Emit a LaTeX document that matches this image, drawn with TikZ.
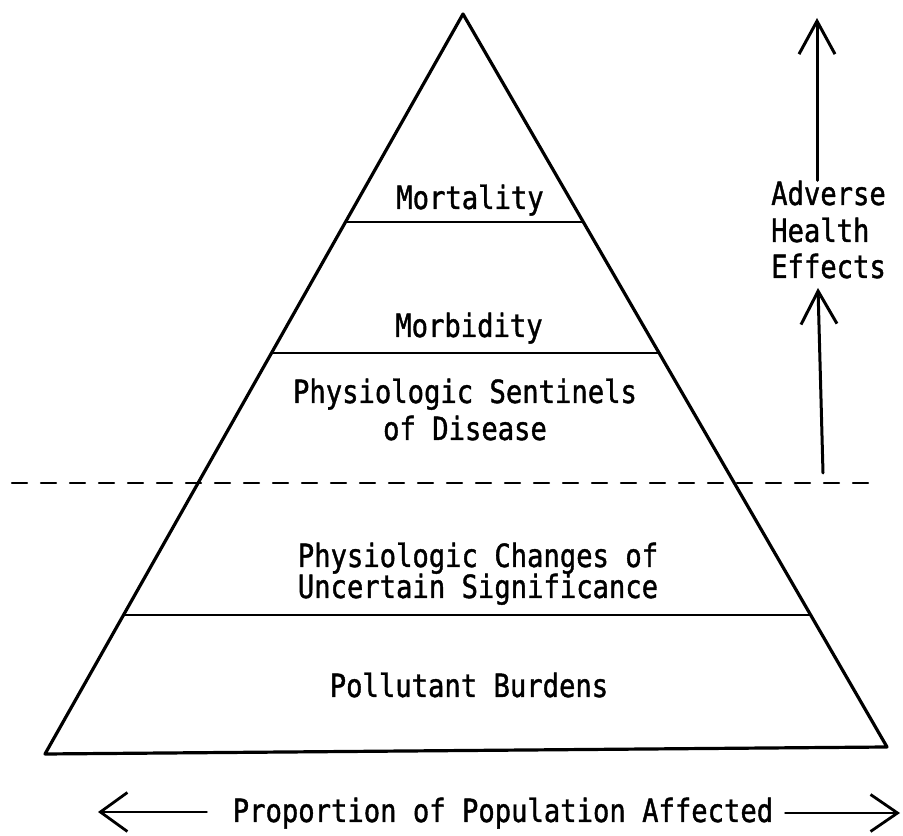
\documentclass[tikz,border=0pt]{standalone}
\usepackage{fontspec}
\newfontfamily\typefont{DejaVu Sans Mono}[FakeStretch=0.85,FakeBold=1.2]
\usetikzlibrary{arrows.meta}

\begin{document}
\begin{tikzpicture}[line cap=round,line join=round,>={Straight Barb[length=33pt,width=36pt]},x=1pt,y=1pt,
		lbl/.style={font=\typefont\fontsize{32}{37}\selectfont,anchor=base,inner sep=0pt},
		side/.style={line width=3.2pt},
		level/.style={line width=2.8pt}]
			\useasboundingbox (0,0) rectangle (903,836);
			% pyramid
			\coordinate (A) at (463,822);
			\coordinate (B) at (45,82);
			\coordinate (C) at (887,89);
			\draw [side] (A)-- (B)-- (C)-- cycle;
			\coordinate (L1) at (345.5,614);
			\coordinate (R1) at (583.3,614);
			\coordinate (L2) at (271.5,483);
			\coordinate (R2) at (659.1,483);
			\coordinate (L3) at (123.5,221);
			\coordinate (R3) at (810.6,221);
			\draw [level] (L1)-- (R1);
			\draw [level] (L2)-- (R2);
			\draw [level] (L3)-- (R3);
			\coordinate (D1) at (12,353);
			\coordinate (D2) at (878,353);
			\draw [line width=2.4pt,dash pattern=on 15pt off 14pt] (D1)-- (D2);
			% labels
			\node [lbl] (mort) at (470,627) {Mortality};
			\node [lbl] (morb) at (469,499) {Morbidity};
			\node [lbl] (sent1) at (465,433) {Physiologic Sentinels};
			\node [lbl] (sent2) at (465,396) {of Disease};
			\node [lbl] (chg1) at (478,269) {Physiologic Changes of};
			\node [lbl] (chg2) at (478,238) {Uncertain Significance};
			\node [lbl] (poll) at (469,139) {Pollutant Burdens};
			\node [lbl,anchor=base west] (adv1) at (771,631) {Adverse};
			\node [lbl,anchor=base west] (adv2) at (771,594) {Health};
			\node [lbl,anchor=base west] (adv3) at (771,558) {Effects};
			\node [lbl] (pop) at (503,14) {Proportion of Population Affected};
			% arrows
			\coordinate (up1) at (817,818);
			\draw [line width=3pt,->] (adv1.north -| up1)-- (up1);
			\coordinate (foot2) at (823,363);
			\coordinate (up2) at (818,548);
			\draw [line width=3pt,->] (foot2)-- (up2);
			\coordinate (popl) at (98,24);
			\coordinate (popr) at (900,23);
			\draw [line width=2.8pt,shorten <=26pt,->,>={Straight Barb[length=27pt,width=39pt]}] (pop.west |- popl)-- (popl);
			\draw [line width=2.8pt,shorten <=12pt,->,>={Straight Barb[length=27pt,width=37pt]}] (pop.east |- popr)-- (popr);
		\end{tikzpicture}
\end{document}
